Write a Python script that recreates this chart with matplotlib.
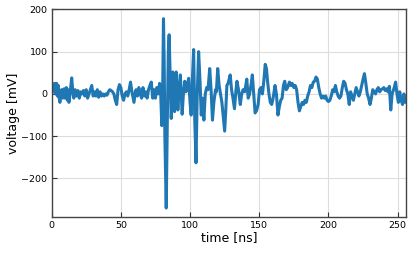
import matplotlib
matplotlib.use("Agg")
import matplotlib.pyplot as plt
import numpy as np

# quiet lead-in before the burst (time in ns, voltage in mV)
t_pre = [0.0, 1.0, 2.0, 2.8, 3.6, 4.2, 4.8, 5.4, 6.0, 6.6, 7.2, 8.0, 8.9, 9.6, 10.6, 11.4,
         12.0, 12.5, 13.3, 14.5, 15.3, 16.0, 17.0, 18.0, 19.0, 20.0, 21.0, 22.0, 23.0, 24.0,
         25.0, 26.0, 27.0, 28.0, 29.0, 30.0, 31.0, 32.0, 33.0, 34.0, 35.0, 36.0, 37.0, 38.0,
         39.0, 40.0, 41.0, 42.0, 43.0, 44.0, 45.0, 46.0, 47.0, 48.0, 49.0, 50.0, 51.0, 52.0,
         53.0, 54.0, 55.0, 56.0, 57.0, 58.0, 59.5, 60.5, 61.0, 62.0, 63.0, 64.0, 65.0, 66.0,
         67.0, 68.0, 69.0, 70.0, 71.0, 72.0, 73.0, 74.0, 75.0, 76.0, 77.0]
v_pre = [0, 10, 25, 0, 25, -5, 20, -8, -20, 5, 10, -10, 12, -10, 15, -15,
         10, -20, 0, 38, 5, -10, 10, -5, 8, -10, 5, 0, 8, -5,
         10, -10, 0, 10, 20, -5, 5, -5, 10, -8, 5, -5, 0, -5,
         0, -3, 5, 10, 8, 5, 0, -15, -25, 10, 22, 15, -5, -15,
         0, 5, -5, 10, 28, 5, -20, 5, 10, -5, 15, 0, -10, 15,
         -5, 5, -10, 10, 20, 28, -10, 10, -10, 15, 0]

# main burst
t_burst = [78.0, 78.8, 79.6, 80.2, 80.8, 81.3, 81.8, 82.8, 83.6, 84.3, 84.9, 85.5, 86.4,
           87.0, 87.6, 88.2, 88.8, 89.4, 90.0, 90.6, 91.2, 92.0, 93.0, 93.6, 94.3, 95.2,
           96.2, 97.0, 97.6, 99.0, 100.0, 100.8, 101.5, 102.6, 103.4, 104.3, 105.2, 106.2,
           107.2, 108.1, 109.0, 110.0, 111.0, 112.0, 113.0, 114.2, 115.2, 116.2, 117.2,
           118.4, 119.0, 120.0, 121.0, 122.0, 123.0, 124.2, 125.0, 125.8, 126.6, 127.5,
           129.0, 130.0, 131.0, 132.1, 133.2, 133.9, 135.0, 136.3, 137.3, 138.3, 139.5,
           141.0, 142.0, 143.0, 144.0, 145.0]
v_burst = [25, 0, -75, 0, 178, 80, -100, -270, -60, 100, 140, 60, -58,
           0, 52, 0, -42, 0, 52, 10, -38, 10, 45, 0, -48, 0,
           30, 5, 10, 37, -20, -50, 20, 105, -60, -163, 0, 100,
           30, -50, -10, -62, 0, 15, 10, 60, 10, -62, -20,
           10, 5, 60, 20, 0, -20, -60, -88, -40, 20, 25,
           45, 10, -10, -35, 10, 30, 10, -25, 0, 10, 5,
           35, -10, 0, 20, 45]

# ringing tail
t_post = [146.0, 147.0, 148.0, 149.2, 150.2, 151.2, 152.3, 153.3, 154.3, 155.2, 156.0,
          157.0, 158.0, 159.0, 160.0, 161.4, 162.4, 163.5, 164.5, 165.5, 166.5, 167.5,
          168.4, 169.5, 170.5, 171.8, 172.8, 173.8, 175.0, 176.0, 177.0, 178.0, 179.0,
          180.0, 181.0, 182.0, 183.0, 184.0, 185.0, 186.0, 187.0, 188.0, 189.0, 190.0,
          191.0, 192.0, 193.0, 194.0, 195.0, 196.0, 197.0, 198.0, 199.0, 200.0, 201.0,
          202.0, 203.0, 204.0, 205.0, 206.0, 207.0, 208.0, 209.0, 210.0, 211.0, 212.0,
          213.0, 214.0, 215.0, 216.0, 217.0, 218.0, 219.0, 220.0, 221.0, 222.0, 223.0,
          224.0, 225.0, 226.0, 227.0, 228.0, 229.0, 230.0, 231.0, 232.0, 233.0, 234.0,
          235.0, 236.0, 237.0, 238.0, 239.0, 240.0, 241.0, 242.0, 243.0, 244.0, 245.0,
          246.0, 247.5, 248.5, 249.5, 250.5, 251.5, 252.5, 253.5, 254.5, 255.5, 256.3]
v_post = [0, -45, -40, -25, 10, 15, 0, 30, 70, 60, 30,
          0, -20, -25, -10, 20, 0, -50, -30, -15, -10, 20,
          30, 10, 15, 28, 20, 25, 15, 20, 10, -20, -40,
          -30, -20, -25, -15, -20, -5, 5, 20, 15, 28, 30,
          40, 35, 15, 0, -10, -5, -10, -5, -15, -18, -15,
          -5, 10, 5, 20, 5, -5, -10, -5, 15, 30, 25,
          10, 0, -25, 5, -5, -15, 0, 15, 5, -5, 5,
          20, 35, 48, 25, 0, -10, -25, -10, 10, 5, 0,
          10, 15, 5, 10, 12, 15, 8, 12, 5, 18, -38,
          0, 15, 28, 0, -20, 5, -15, -25, 0, -20, -10]

time_ns = np.array(t_pre + t_burst + t_post)
voltage_mv = np.array(v_pre + v_burst + v_post)

fig = plt.figure(figsize=(4.13, 2.54), dpi=100)
ax = fig.add_axes([0.125, 0.146, 0.858, 0.817])

ax.plot(time_ns, voltage_mv, color="#1f77b4", lw=2.2)

ax.set_xlim(0, 256)
ax.set_ylim(-291, 200)
ax.set_xticks([0, 50, 100, 150, 200, 250])
ax.set_yticks([-200, -100, 0, 100, 200])
ax.grid(color="#dddddd", lw=0.8)
ax.set_axisbelow(True)
ax.tick_params(direction="in", length=3.5, width=0.8, labelsize=6.8, color="#333333", pad=3)
for s in ax.spines.values():
    s.set_color("#444444")
    s.set_linewidth(1.0)

ax.set_xlabel("time [ns]", fontsize=9, labelpad=1)
ax.set_ylabel("voltage [mV]", fontsize=9, labelpad=1)

fig.savefig("out.png", dpi=100)
